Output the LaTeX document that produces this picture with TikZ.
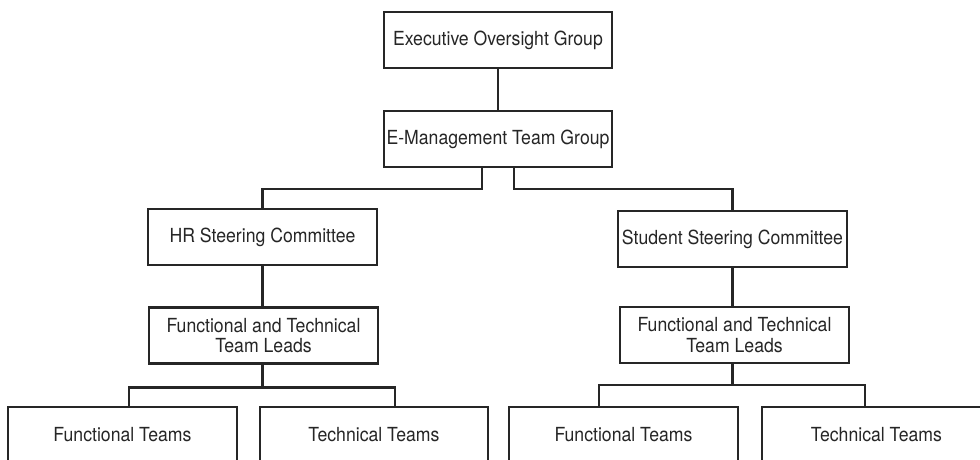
\documentclass[tikz,border=0pt]{standalone}
\usepackage{fontspec}
\setmainfont{TeX Gyre Heros}[FakeStretch=0.91]
\usetikzlibrary{calc,positioning}

\begin{document}
\begin{tikzpicture}[scale=1,
  box/.style={draw=black!85, line width=1.5pt, minimum width=5.72cm, minimum height=1.4cm,
    inner sep=0.5mm, align=center, text=black!85, font=\fontsize{13.8}{14.4}\selectfont},
  link/.style={draw=black!85, line width=1.5pt}]

\useasboundingbox [fill=white] (0,0) rectangle (24.5,11.5);

\node [box] (exec) at (12.45,10.5) {Executive Oversight Group};
\node [box] (emg) at (12.45,8.025) {E-Management Team Group};

\node [box] (hr) at (6.5625,5.575) {HR Steering Committee};
\node [box] (stu) at (18.3125,5.525) {Student Steering Committee};

\node [box] (ftlA) at (6.5875,3.1125) {Functional and Technical\\Team Leads};
\node [box] (ftlB) at (18.3625,3.125) {Functional and Technical\\Team Leads};

\node [box] (ftA) at (3.0625,0.625) {Functional Teams};
\node [box] (ttA) at (9.35,0.625) {Technical Teams};
\node [box] (ftB) at (15.5875,0.625) {Functional Teams};
\node [box] (ttB) at (21.9125,0.625) {Technical Teams};

\draw [link] (exec.south) -- (emg.north);
\draw [link] ([xshift=-0.4cm]emg.south) -- ++(0,-0.525) -| (hr.north);
\draw [link] ([xshift=0.4cm]emg.south) -- ++(0,-0.525) -| (stu.north);

\draw [link] (hr.south) -- (hr.south |- ftlA.north);
\draw [link] (stu.south) -- (stu.south |- ftlB.north);

% left teams
\draw [link] (ftlA.south -| hr.south) -- ++(0,-0.575) -| ([xshift=0.16cm]ftA.north);
\draw [link] (ftlA.south -| hr.south) -- ++(0,-0.575) -| ([xshift=0.52cm]ttA.north);
% right teams
\draw [link] (ftlB.south -| stu.south) -- ++(0,-0.525) -| ([xshift=-0.61cm]ftB.north);
\draw [link] (ftlB.south -| stu.south) -- ++(0,-0.525) -| ([xshift=-0.29cm]ttB.north);

\end{tikzpicture}
\end{document}
